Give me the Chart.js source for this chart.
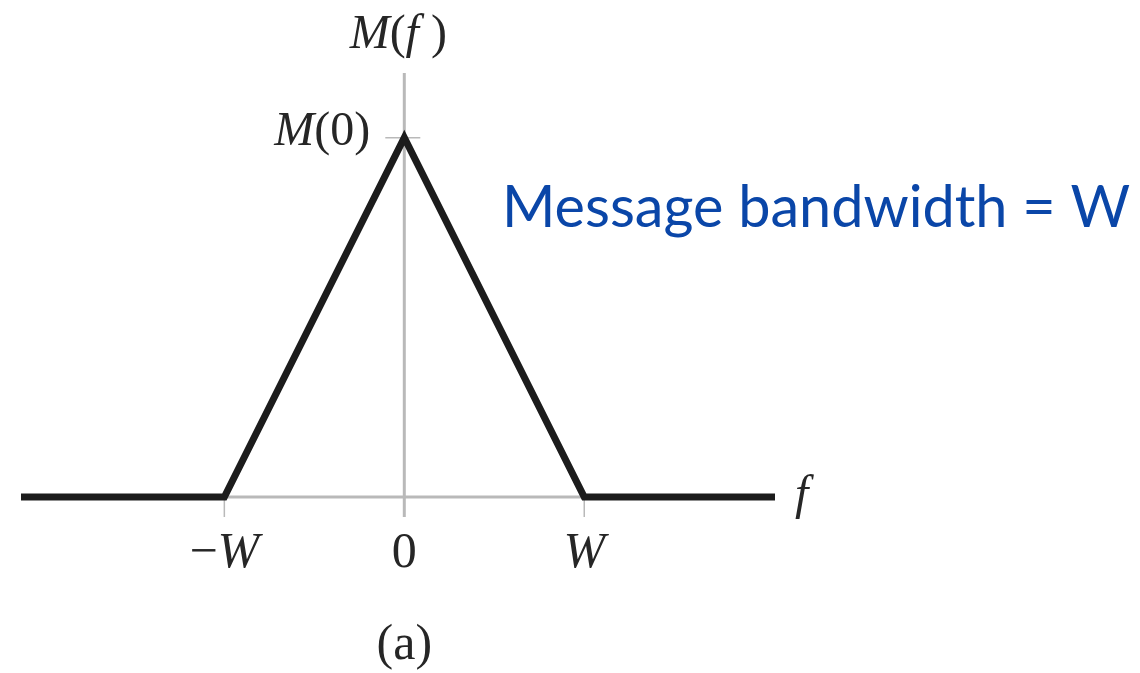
<!DOCTYPE html>
<html>
<head>
<meta charset="utf-8">
<script src="https://cdn.jsdelivr.net/npm/chart.js@4.4.1/dist/chart.umd.min.js"></script>
<style>
  html, body { margin: 0; padding: 0; background: #fff; }
  #wrap { position: relative; width: 1140px; height: 673px; }
</style>
</head>
<body>
<div id="wrap"><canvas id="spectrum" width="1140" height="673"></canvas></div>
<script>
// spectrum |M(f)| of a triangular message, values in units of W and M(0)
const freqs = [-2.13, -1, 0, 1, 2.06];
const magnitude = [0, 0, 1, 0, 0];
const tickValues = [-1, 0, 1];
const tickLabels = ['−W', '0', 'W'];
const peakLabel = 'M(0)';
const yTitle = 'M(f )';
const xTitle = 'f';
const caption = '(a)';
const note = 'Message bandwidth = W';

const axisGray = '#b9b9b9';
const serif = '"Liberation Serif", "DejaVu Serif", serif';

// letters italic, everything else upright (like the textbook figure)
function drawMixed(ctx, text, x, y, size, align, upright) {
    const parts = text.split('').map(ch => ({
        ch: ch,
        font: (!upright && /[A-Za-z]/.test(ch) ? 'italic ' : '') + size + 'px ' + serif
    }));
    let total = 0;
    parts.forEach(p => { ctx.font = p.font; p.w = ctx.measureText(p.ch).width; total += p.w; });
    let cx = align === 'center' ? x - total / 2 : align === 'right' ? x - total : x;
    ctx.textAlign = 'left';
    ctx.textBaseline = 'alphabetic';
    parts.forEach(p => { ctx.font = p.font; ctx.fillText(p.ch, cx, y); cx += p.w; });
}

const axesPlugin = {
    id: 'axesPlugin',
    beforeDatasetsDraw(chart) {
        const ctx = chart.ctx;
        const xs = chart.scales.x, ys = chart.scales.y;
        const x0 = xs.getPixelForValue(0), y0 = ys.getPixelForValue(0);
        ctx.save();
        ctx.strokeStyle = axisGray;
        // axes
        ctx.lineWidth = 3;
        ctx.beginPath();
        ctx.moveTo(xs.left, y0); ctx.lineTo(xs.right, y0);
        ctx.moveTo(x0, ys.top); ctx.lineTo(x0, ys.bottom + 2);
        ctx.stroke();
        // x ticks
        ctx.lineWidth = 1.5;
        ctx.beginPath();
        tickValues.forEach(v => {
            const px = xs.getPixelForValue(v);
            ctx.moveTo(px, y0); ctx.lineTo(px, y0 + 20);
        });
        // y tick at the peak
        const y1 = ys.getPixelForValue(1);
        ctx.moveTo(x0 - 19, y1); ctx.lineTo(x0 + 16, y1);
        ctx.stroke();
        ctx.restore();
    },
    afterDraw(chart) {
        const ctx = chart.ctx;
        const xs = chart.scales.x, ys = chart.scales.y;
        const x0 = xs.getPixelForValue(0), y0 = ys.getPixelForValue(0);
        const y1 = ys.getPixelForValue(1);
        ctx.save();
        ctx.fillStyle = '#262626';
        drawMixed(ctx, yTitle, x0 - 6, ys.top - 25, 48, 'center');
        drawMixed(ctx, peakLabel, x0 - 34, y1 + 7, 48, 'right');
        drawMixed(ctx, xTitle, xs.right + 20, y0 + 12, 48, 'left');
        tickValues.forEach((v, i) => {
            drawMixed(ctx, tickLabels[i], xs.getPixelForValue(v), y0 + 70, 50, 'center');
        });
        drawMixed(ctx, caption, x0, y0 + 162, 50, 'center', true);
        // blue note, sized to span the same width as the original
        ctx.fillStyle = '#0a46a8';
        let size = 62;
        ctx.font = size + 'px Lato, "Open Sans", sans-serif';
        const w = ctx.measureText(note).width;
        size = size * 628 / w;
        ctx.font = size.toFixed(1) + 'px Lato, "Open Sans", sans-serif';
        ctx.textAlign = 'left';
        ctx.textBaseline = 'alphabetic';
        ctx.fillText(note, 502, 227);
        ctx.restore();
    }
};

document.addEventListener('DOMContentLoaded', () => {
    const ctx = document.getElementById('spectrum').getContext('2d');
    new Chart(ctx, {
        type: 'line',
        data: {
            datasets: [{
                data: freqs.map((f, i) => ({ x: f, y: magnitude[i] })),
                borderColor: '#1c1c1c',
                borderWidth: 7,
                borderJoinStyle: 'miter',
                pointRadius: 0,
                tension: 0,
                fill: false
            }]
        },
        options: {
            responsive: false,
            animation: false,
            devicePixelRatio: 1,
            layout: { padding: { left: 21, right: 365, top: 73, bottom: 158 } },
            scales: {
                x: { type: 'linear', min: -2.13, max: 2.06, display: false },
                y: { type: 'linear', min: -0.05, max: 1.18, display: false }
            },
            plugins: {
                legend: { display: false },
                tooltip: { enabled: false }
            }
        },
        plugins: [axesPlugin]
    });
});
</script>
</body>
</html>
